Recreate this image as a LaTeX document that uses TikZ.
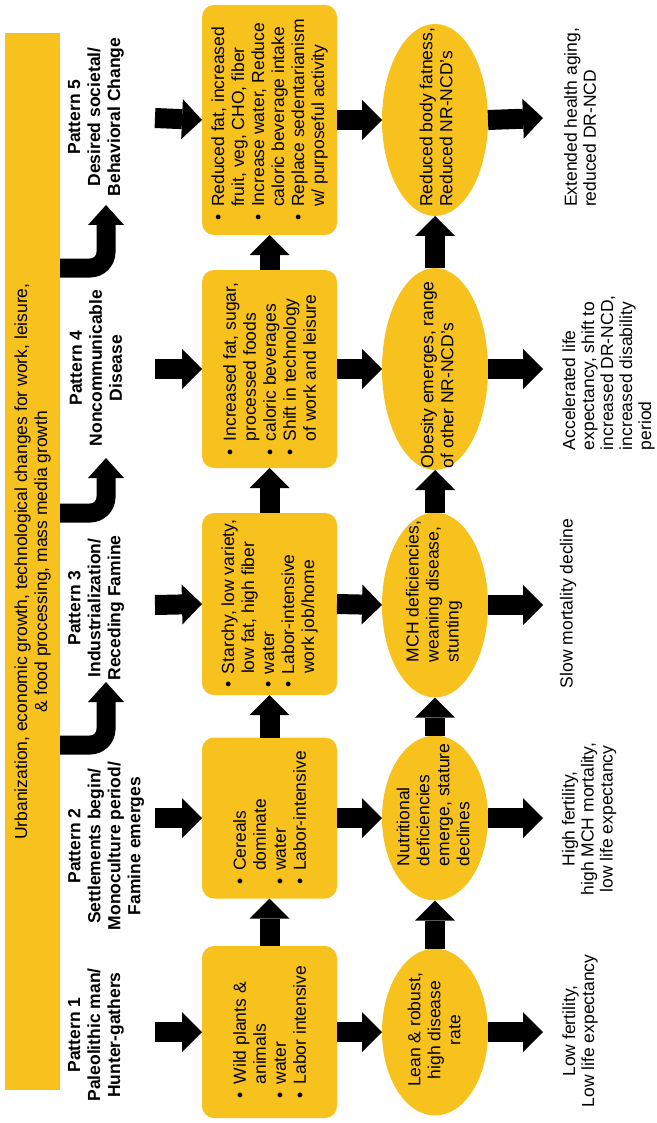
\documentclass[tikz,border=0pt]{standalone}
\usepackage{fontspec}
\setmainfont{Liberation Sans}
\usetikzlibrary{arrows.meta,shapes.geometric}
\definecolor{gold}{RGB}{247,193,30}
% bullet with hanging indent for the diet boxes
\newcommand\bul{\makebox[14pt][l]{\textbullet}}
\newcommand\hang{\hspace*{14pt}}
\begin{document}
\begin{tikzpicture}[x=1pt,y=-1pt,
  every node/.style={inner sep=0pt, outer sep=0pt, font=\fontsize{17.5}{20}\selectfont},
  turned/.style={rotate=90},
  banner/.style={turned, fill=gold, minimum width=1057pt, minimum height=55pt, align=center},
  patlabel/.style={turned, align=center, font=\fontsize{17.5}{20}\selectfont\bfseries},
  diet/.style={turned, fill=gold, rounded corners=12pt, minimum height=135pt, align=left},
  health/.style={turned, ellipse, fill=gold, minimum height=106pt},
  etext/.style={turned},
  result/.style={turned, font=\fontsize{17.5}{19}\selectfont},
  blockarrow/.style={draw=black, line width=20pt, -{Triangle[width=40pt,length=20pt,line width=0pt]}},
  bendarrow/.style={draw=black, line width=19pt, rounded corners=16pt, -{Triangle[width=36pt,length=20pt,line width=0pt]}},
]
\useasboundingbox (0,0) rectangle (656,1123);

% top banner
\node[banner] (banner) at (32.5,561.5) {Urbanization, economic growth, technological changes for work, leisure,\\ \& food processing, mass media growth};

% pattern headings
\node[patlabel] (p1) at (96,1035) {Pattern 1\\Paleolithic man/\\Hunter-gathers};
\node[patlabel] (p2) at (106,846) {Pattern 2\\Settlements begin/\\Monoculture period/\\Famine emerges};
\node[patlabel] (p3) at (96,608) {Pattern 3\\Industrialization/\\Receding Famine};
\node[patlabel] (p4) at (96,368) {Pattern 4\\Noncommunicable\\Disease};
\node[patlabel] (p5) at (96,117) {Pattern 5\\Desired societal/\\Behavioral Change};

% diet and activity boxes
\node[diet, minimum width=172pt] (b1) at (269.5,1032) {\bul Wild plants \&\\\hang animals\\\bul water\\\bul Labor intensive};
\node[diet, minimum width=161pt] (b2) at (269.5,818) {\bul Cereals\\\hang dominate\\\bul water\\\bul Labor-intensive};
\node[diet, minimum width=182pt] (b3) at (269.5,604) {\bul Starchy, low variety,\\\hang low fat, high fiber\\\bul water\\\bul Labor-intensive\\\hang work job/home};
\node[diet, minimum width=198pt] (b4) at (269.5,369) {\bul Increased fat, sugar,\\\hang processed foods\\\bul caloric beverages\\\bul Shift in technology\\\hang of work and leisure};
\node[diet, minimum width=230pt] (b5) at (269.5,120) {\bul Reduced fat, increased\\\hang fruit, veg, CHO, fiber\\\bul Increase water, Reduce\\\hang caloric beverage intake\\\bul Replace sedentarianism\\\hang w/ purposeful activity};

% nutritional status ellipses
\node[health, minimum width=167pt] (e1) at (435,1032) {};
\node[health, minimum width=165pt] (e2) at (435,818) {};
\node[health, minimum width=185pt] (e3) at (435,605) {};
\node[health, minimum width=202pt] (e4) at (435,369) {};
\node[health, minimum width=192pt] (e5) at (435,120) {};
\node[etext, align=center] (t1) at (434,1030) {Lean \& robust,\\high disease\\rate};
\node[etext, align=left, anchor=west] (t2) at (433,866) {Nutritional\\deficiencies\\emerge, stature\\declines};
\node[etext, align=left, anchor=west] (t3) at (434,662) {MCH deficiencies,\\weaning disease,\\stunting};
\node[etext, align=left, anchor=west] (t4) at (437,468) {Obesity emerges, range\\of other NR-NCD's};
\node[etext, align=left, anchor=west] (t5) at (436,207) {Reduced body fatness,\\Reduced NR-NCD's};

% demographic outcomes
\node[result, align=center] (o1) at (580,1031) {Low fertility,\\Low life expectancy};
\node[result, align=center] (o2) at (589,819) {High fertility,\\high MCH mortality,\\low life expectancy};
\node[result, anchor=west] (o3) at (568,688) {Slow mortality decline};
\node[result, align=left, anchor=west] (o4) at (608.5,450) {Accelerated life\\expectancy, shift to\\increased DR-NCD,\\increased disability\\period};
\node[result, align=left, anchor=west] (o5) at (580,207) {Extended health aging,\\reduced DR-NCD};

% arrow starts and ends
\foreach \i/\r in {1/1032,2/818,3/605,4/369,5/118} {
  \coordinate (a\i) at (155,\r);
  \coordinate (r\i) at (543,\r);
}
\coordinate (k3) at (106,745); \coordinate (h3) at (106,682);
\coordinate (k4) at (106,513); \coordinate (h4) at (106,458);
\coordinate (k5) at (106,268); \coordinate (h5) at (106,205);

% row arrows
\foreach \i in {1,...,5} {
  \draw[blockarrow] (a\i) -- (b\i.north);
  \draw[blockarrow] (b\i.south) -- (e\i.north);
  \draw[blockarrow] (e\i.south) -- (r\i);
}
% column arrows
\foreach \i/\j in {1/2,2/3,3/4,4/5} {
  \draw[blockarrow] (b\i.east) -- (b\j.west);
  \draw[blockarrow] (e\i.east) -- (e\j.west);
}
% bent arrows from the banner
\foreach \i in {3,4,5} {
  \draw[bendarrow] (banner.south |- k\i) -- (k\i) -- (h\i);
}
\end{tikzpicture}
\end{document}
